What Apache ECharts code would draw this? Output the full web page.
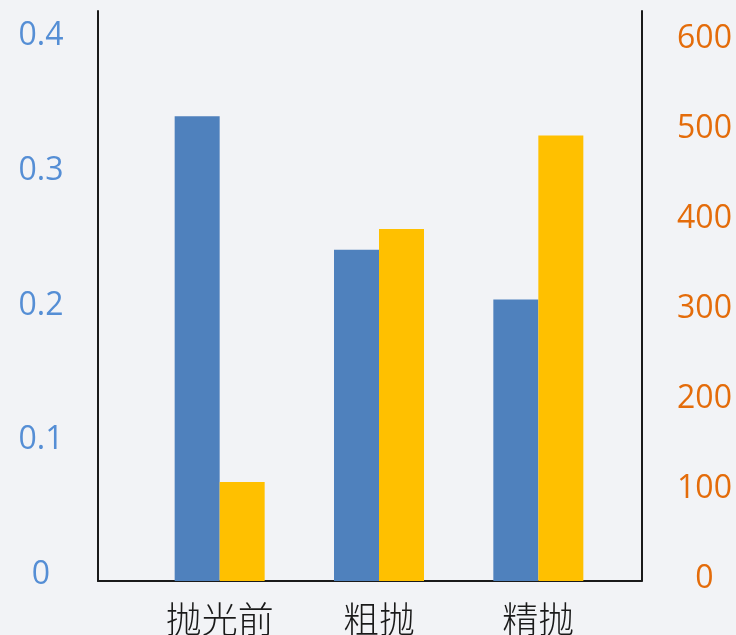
<!DOCTYPE html>
<html>
<head>
<meta charset="utf-8">
<script src="https://cdn.jsdelivr.net/npm/echarts@6/dist/echarts.min.js"></script>
<style>
html,body{margin:0;padding:0;background:#f2f3f6;}
#c{width:736px;height:635px;}
</style>
</head>
<body>
<div id="c"></div>
<script>
var categories = ['抛光前', '粗抛', '精抛'];
var leftValues = [0.345, 0.246, 0.209];
var rightValues = [110, 391, 495];
var leftTicks = [0, 0.1, 0.2, 0.3, 0.4];
var rightTicks = [0, 100, 200, 300, 400, 500, 600];

var chart = echarts.init(document.getElementById('c'));
var lineStyle = {color: '#1a1a1a', width: 2};
var option = {
  backgroundColor: '#f2f3f6',
  animation: false,
  grid: [
    {left: 98, right: 94.5, top: 11, bottom: 54, outerBoundsMode: 'none', containLabel: false},
    {left: 140, right: 118, top: 11, bottom: 54, outerBoundsMode: 'none', containLabel: false}
  ],
  xAxis: [
    {gridIndex: 0, type: 'value', min: 0, max: 1, axisLine: {show: true, onZero: false, lineStyle: lineStyle},
     axisTick: {show: false}, axisLabel: {show: false}, splitLine: {show: false}},
    {gridIndex: 1, type: 'category', data: categories,
     axisLine: {show: false}, axisTick: {show: false}, splitLine: {show: false},
     axisLabel: {fontFamily: 'Noto Sans CJK SC', fontWeight: 300, fontSize: 36, color: '#1a1a1a', margin: 20}}
  ],
  yAxis: [
    {gridIndex: 0, type: 'value', position: 'left', min: 0, max: 0.42324, interval: 0.1,
     axisLine: {show: true, onZero: false, lineStyle: lineStyle}, axisTick: {show: false}, splitLine: {show: false},
     axisLabel: {showMaxLabel: false, fontFamily: 'Open Sans', fontSize: 32, lineHeight: 12, color: '#558ed5', align: 'center', margin: 57,
       formatter: function (v) { var r = Math.round(v * 10) / 10; return leftTicks.indexOf(r) >= 0 ? String(r) + '\n ' : ''; }}},
    {gridIndex: 0, type: 'value', position: 'right', min: 0, max: 633.3, interval: 100,
     axisLine: {show: true, onZero: false, lineStyle: lineStyle}, axisTick: {show: false}, splitLine: {show: false},
     axisLabel: {showMaxLabel: false, fontFamily: 'Open Sans', fontSize: 32, lineHeight: 4, color: '#e46c0a', align: 'center', margin: 63,
       formatter: function (v) { var r = Math.round(v); return rightTicks.indexOf(r) >= 0 ? String(r) + '\n ' : ''; }}},
    {gridIndex: 1, type: 'value', min: 0, max: 0.42324, show: false},
    {gridIndex: 1, type: 'value', min: 0, max: 633.3, show: false}
  ],
  series: [
    {type: 'bar', xAxisIndex: 1, yAxisIndex: 2, data: leftValues, barWidth: 45, barGap: '0%',
     itemStyle: {color: '#4f81bd'}},
    {type: 'bar', xAxisIndex: 1, yAxisIndex: 3, data: rightValues, barWidth: 45, barGap: '0%',
     itemStyle: {color: '#ffc000'}}
  ]
};
chart.setOption(option);
</script>
</body>
</html>
